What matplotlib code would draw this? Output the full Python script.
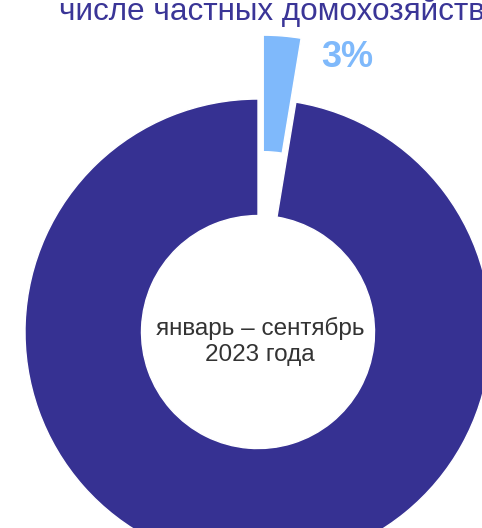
import matplotlib
matplotlib.use("Agg")
import matplotlib.pyplot as plt

plt.rcParams['font.family'] = ['Liberation Sans', 'DejaVu Sans']

# доли: остальные и частные домохозяйства
labels = ["прочие", "частные домохозяйства"]
shares = [97.4, 2.6]
colors = ["#363192", "#7fb9fb"]
explode = [0, 0.275]

title_tail = "числе частных домохозяйств"
center_text = "январь – сентябрь\n2023 года"

fig = plt.figure(figsize=(4.82, 5.28), dpi=100)
ax = fig.add_axes([0, 0, 1, 1])

# big slice starts at 12 o'clock and runs counterclockwise, small one closes the circle
wedges, _ = ax.pie(shares, colors=colors, explode=explode,
                   startangle=90, counterclock=True, radius=1.0,
                   wedgeprops=dict(width=0.5, edgecolor="white", linewidth=1))

ax.text(0.008, -0.04, center_text, ha="center", va="center", fontsize=17.5,
        color="#333333", linespacing=1.28)
ax.text(0.385, 1.18, f"{shares[1]:.0f}%", ha="center", va="center",
        fontsize=26, fontweight="bold", color=colors[1])
ax.text(-0.854, 1.339, title_tail, ha="left", va="baseline", fontsize=22.7,
        color="#3a3597", clip_on=False)

ax.set_xlim(-1.107, 0.961)
ax.set_ylim(-0.841, 1.425)
ax.set_aspect("equal")
ax.axis("off")

fig.savefig("out.png", dpi=100)
